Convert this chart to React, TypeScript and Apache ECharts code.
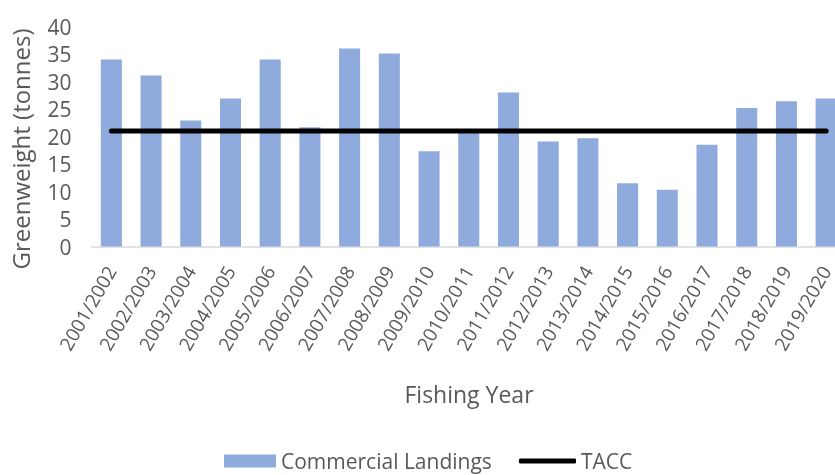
import React, { useEffect, useRef } from "react";
import * as echarts from "echarts";

const categories = [
  "2001/2002", "2002/2003", "2003/2004", "2004/2005", "2005/2006",
  "2006/2007", "2007/2008", "2008/2009", "2009/2010", "2010/2011",
  "2011/2012", "2012/2013", "2013/2014", "2014/2015", "2015/2016",
  "2016/2017", "2017/2018", "2018/2019", "2019/2020",
];
const landings = [
  34.0, 31.1, 22.9, 26.9, 34.0, 21.7, 36.0, 35.1, 17.3, 20.7,
  28.0, 19.1, 19.7, 11.5, 10.3, 18.5, 25.2, 26.4, 26.9,
];
const tacc = categories.map(() => 21);
const yTicks = { min: 0, max: 40, interval: 5 };

const FONT = "Open Sans";
const TEXT = "#595959";

export default function App() {
  const ref = useRef<HTMLDivElement>(null);
  useEffect(() => {
    const chart = echarts.init(ref.current!, null, { renderer: "svg" });
    chart.setOption({
      animation: false,
      textStyle: { fontFamily: FONT, color: TEXT },
      grid: { left: 91.5, right: -11, top: 26.5, bottom: 228.5, outerBoundsMode: "none", containLabel: false },
      xAxis: {
        type: "category",
        data: categories,
        axisLine: { lineStyle: { color: "#d9d9d9", width: 1.5 } },
        axisTick: { show: false },
        axisLabel: { rotate: 60, margin: 21, fontSize: 19, color: TEXT, fontFamily: FONT, interval: 0 },
      },
      yAxis: {
        type: "value",
        min: yTicks.min,
        max: yTicks.max,
        interval: yTicks.interval,
        axisLine: { show: false },
        axisTick: { show: false },
        splitLine: { show: false },
        axisLabel: { fontSize: 21, color: TEXT, fontFamily: FONT, margin: 20 },
      },
      legend: [
        {
          data: [{ name: "Commercial Landings", icon: "rect" }],
          left: 224,
          top: 450,
          padding: 0,
          itemWidth: 52,
          itemHeight: 13,
          textStyle: { fontSize: 21, lineHeight: 22, color: TEXT, fontFamily: FONT },
        },
        {
          data: [{ name: "TACC", icon: "roundRect" }],
          left: 519,
          top: 450,
          padding: 0,
          itemWidth: 57,
          itemHeight: 5,
          itemStyle: { color: "#000" },
          textStyle: { fontSize: 21, lineHeight: 22, color: TEXT, fontFamily: FONT },
        },
      ],
      graphic: [
        {
          type: "text",
          x: 20,
          y: 149,
          rotation: Math.PI / 2,
          style: {
            text: "Greenweight (tonnes)",
            fontSize: 24,
            fontFamily: FONT,
            fill: TEXT,
            textAlign: "center",
            textVerticalAlign: "middle",
          },
        },
        {
          type: "text",
          x: 469,
          y: 394,
          style: {
            text: "Fishing Year",
            fontSize: 23,
            fontFamily: FONT,
            fill: TEXT,
            textAlign: "center",
            textVerticalAlign: "middle",
          },
        },
      ],
      series: [
        {
          name: "Commercial Landings",
          type: "bar",
          data: landings,
          barCategoryGap: "47%",
          itemStyle: { color: "#8faadc" },
        },
        {
          name: "TACC",
          type: "line",
          data: tacc,
          symbol: "none",
          lineStyle: { color: "#000", width: 5, cap: "round" },
          itemStyle: { color: "#000" },
        },
      ],
    });
    return () => chart.dispose();
  }, []);
  return <div ref={ref} style={{ position: "fixed", left: 0, top: 0, width: 835, height: 475 }} />;
}
